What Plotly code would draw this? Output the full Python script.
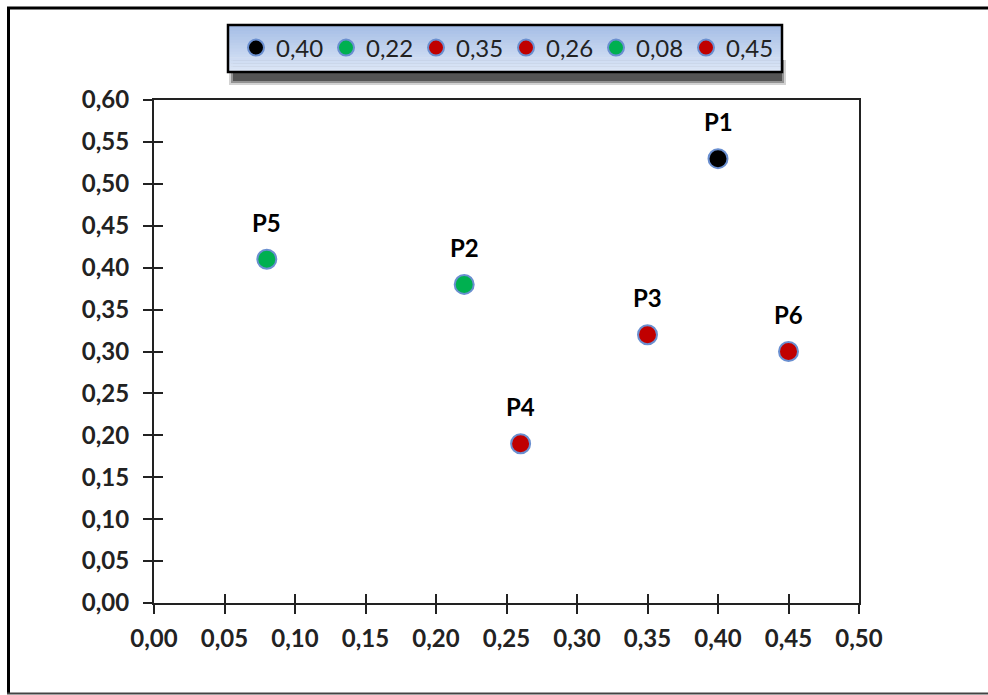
import plotly.graph_objects as go

# Points: labels, coordinates, legend names and fill colours
labels = ["P1", "P2", "P3", "P4", "P5", "P6"]
x_vals = [0.40, 0.22, 0.35, 0.26, 0.08, 0.45]
y_vals = [0.53, 0.38, 0.32, 0.19, 0.41, 0.30]
legend_names = ["0,40", "0,22", "0,35", "0,26", "0,08", "0,45"]
colors = ["#000000", "#00b050", "#c00000", "#c00000", "#00b050", "#c00000"]

W, H = 988, 695
ML, MR, MT, MB = 154, 129, 100, 92
PW, PH = W - ML - MR, H - MT - MB


def px_x(p):
    return (p - ML) / PW


def px_y(p):
    return (H - MB - p) / PH


fig = go.Figure()

for lab, xv, yv, name, col in zip(labels, x_vals, y_vals, legend_names, colors):
    fig.add_trace(go.Scatter(
        x=[xv], y=[yv], mode="markers", name=name,
        marker=dict(size=19, color=col, line=dict(color="#6a8fd0", width=2)),
        hoverinfo="skip",
    ))
    fig.add_annotation(
        x=xv, y=yv, text=lab, showarrow=False, yshift=37,
        font=dict(family="Lato", size=24, color="#000000", weight="bold"),
    )

# invisible trace carrying the overlay axes (inner half of the crossing ticks)
fig.add_trace(go.Scatter(
    x=x_vals, y=y_vals, xaxis="x2", yaxis="y2", mode="markers",
    marker=dict(opacity=0), showlegend=False, hoverinfo="skip",
))

axis_font = dict(family="Lato", size=24, color="#222222", weight="bold")
fig.update_layout(
    width=W, height=H,
    margin=dict(l=ML, r=MR, t=MT, b=MB),
    paper_bgcolor="white", plot_bgcolor="white",
    separators=",.",
    xaxis=dict(
        range=[0, 0.5], dtick=0.05, tick0=0, tickformat=".2f",
        showgrid=False, zeroline=False,
        showline=True, linecolor="#222222", linewidth=2, mirror=True,
        ticks="outside", ticklen=9, tickwidth=2, tickcolor="#222222",
        tickfont=axis_font, ticklabelstandoff=4,
    ),
    yaxis=dict(
        range=[0, 0.6], dtick=0.05, tick0=0, tickformat=".2f",
        showgrid=False, zeroline=False,
        showline=True, linecolor="#222222", linewidth=2, mirror=True,
        ticks="outside", ticklen=9, tickwidth=2, tickcolor="#222222",
        tickfont=axis_font, ticklabelstandoff=9,
    ),
    xaxis2=dict(
        overlaying="x", anchor="y", side="bottom", range=[0, 0.5], dtick=0.05, tick0=0,
        showgrid=False, zeroline=False, showline=False, showticklabels=False,
        ticks="inside", ticklen=9, tickwidth=2, tickcolor="#222222",
    ),
    yaxis2=dict(
        overlaying="y", anchor="x", side="left", range=[0, 0.6], dtick=0.05, tick0=0,
        showgrid=False, zeroline=False, showline=False, showticklabels=False,
        ticks="inside", ticklen=9, tickwidth=2, tickcolor="#222222",
    ),
    legend=dict(
        orientation="h", x=px_x(236), y=px_y(48), xanchor="left", yanchor="middle",
        bgcolor="rgba(0,0,0,0)", borderwidth=0,
        font=dict(family="Lato", size=24, color="#222222"),
        entrywidth=45, itemwidth=30, tracegroupgap=0,
    ),
    showlegend=True,
)

shapes = []
# outer frame
shapes.append(dict(type="line", xref="paper", yref="paper",
                   x0=px_x(8.5), x1=px_x(8.5), y0=px_y(7), y1=px_y(694),
                   line=dict(color="#000000", width=3)))
shapes.append(dict(type="line", xref="paper", yref="paper",
                   x0=px_x(7), x1=px_x(990), y0=px_y(8), y1=px_y(8),
                   line=dict(color="#000000", width=3)))
shapes.append(dict(type="line", xref="paper", yref="paper",
                   x0=px_x(7), x1=px_x(990), y0=px_y(693.5), y1=px_y(693.5),
                   line=dict(color="#444444", width=2)))

# legend box shadow (below the box, soft edge)
for off, op in [(0, 0.2), (2, 0.35), (4, 0.55)]:
    shapes.append(dict(type="rect", xref="paper", yref="paper",
                       x0=px_x(229 + off), x1=px_x(786 - off),
                       y0=px_y(85 - off), y1=px_y(60),
                       line=dict(width=0), fillcolor="#202020", opacity=op))

# legend box gradient fill
top_c = (166, 190, 230)
bot_c = (220, 230, 246)
bx0, bx1, by0, by1 = 228, 782, 25, 72
n = 16
for i in range(n):
    t = i / (n - 1)
    c = tuple(int(round(top_c[k] + (bot_c[k] - top_c[k]) * t)) for k in range(3))
    ya = by0 + (by1 - by0) * i / n
    yb = by0 + (by1 - by0) * (i + 1) / n
    shapes.append(dict(type="rect", xref="paper", yref="paper",
                       x0=px_x(bx0), x1=px_x(bx1), y0=px_y(yb + 0.5), y1=px_y(ya),
                       line=dict(width=0), fillcolor="rgb(%d,%d,%d)" % c))
shapes.append(dict(type="rect", xref="paper", yref="paper",
                   x0=px_x(bx0), x1=px_x(bx1), y0=px_y(by1), y1=px_y(by0),
                   line=dict(color="#000000", width=2.5), fillcolor="rgba(0,0,0,0)"))

fig.update_layout(shapes=shapes)

fig.write_html("out.html")
